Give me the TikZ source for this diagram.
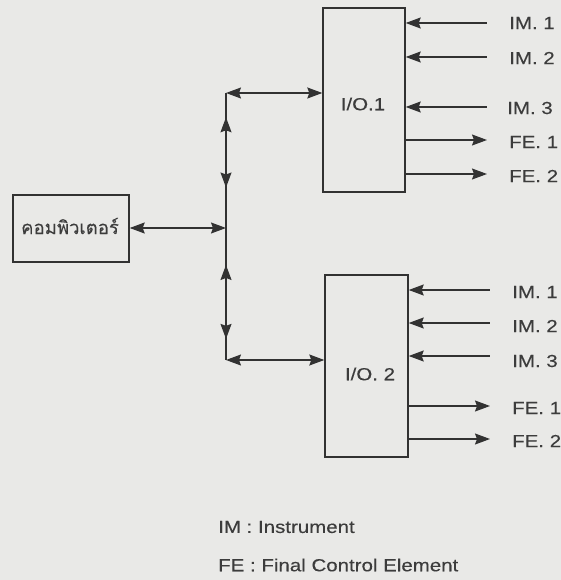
\documentclass[tikz,border=0pt]{standalone}
\usepackage{fontspec}
\setmainfont{Liberation Sans}[FakeStretch=1.17,FakeBold=0.25]
\newfontfamily\thaifont[Script=Thai,FakeBold=0.15]{Loma}
\usetikzlibrary{arrows.meta,decorations.markings}
\definecolor{paper}{RGB}{233,233,231}
\definecolor{ink}{RGB}{50,50,50}
\definecolor{txt}{RGB}{60,60,60}
\tikzset{
  box/.style={draw=ink, line width=1.4pt, minimum width=#1, inner sep=0pt},
  lbl/.style={text=txt, font=\fontsize{17.5}{20}\selectfont, inner sep=0pt},
  sig/.style={lbl, anchor=west},
  conn/.style={draw=ink, line width=1.3pt},
  tip/.tip={Stealth[length=15pt,width=11pt,inset=2pt]},
  both/.style={conn, tip-tip},
  inarr/.style={conn, tip-},
  outarr/.style={conn, -tip},
}
\begin{document}
\begin{tikzpicture}[x=1pt,y=-1pt]
\fill[paper] (0,0) rectangle (561,580);
\useasboundingbox (0,0) rectangle (561,580);
% boxes
\node[box=116pt, minimum height=67pt] (comp) at (71,228.5) {};
\node[lbl, font=\thaifont\fontsize{18.5}{22}\selectfont] (compl) at (70,226) {คอมพิวเตอร์};
\node[box=82pt, minimum height=184pt] (io1) at (364,100) {};
\node[lbl] (io1l) at (363,104) {I/O.1};
\node[box=83pt, minimum height=182pt] (io2) at (366.5,366) {};
\node[lbl] (io2l) at (370,374) {I/O.\ 2};
% bus
\coordinate (J) at (226,228);
\coordinate (T) at (226,93);
\coordinate (B) at (226,360);
\draw[both] (comp.east |- J) -- (J);
\draw[both] (T) -- (io1.west |- T);
\draw[both] (B) -- (io2.west |- B);
\draw[conn, decoration={markings,
   mark=at position 0.82 with {\arrow{tip}},
   mark=at position 0.30 with {\arrowreversed{tip}}},
   postaction={decorate}] (J) -- (T);
\draw[conn, decoration={markings,
   mark=at position 0.28 with {\arrowreversed{tip}},
   mark=at position 0.84 with {\arrow{tip}}},
   postaction={decorate}] (J) -- (B);
% top box signals
\coordinate (a1) at (487,23);
\coordinate (a2) at (487,57);
\coordinate (a3) at (487,107);
\coordinate (a4) at (487,140);
\coordinate (a5) at (487,174);
\draw[inarr] (io1.east |- a1) -- (a1);
\draw[inarr] (io1.east |- a2) -- (a2);
\draw[inarr] (io1.east |- a3) -- (a3);
\draw[outarr] (io1.east |- a4) -- (a4);
\draw[outarr] (io1.east |- a5) -- (a5);
\node[sig] (t1) at (509,23) {IM.\ 1};
\node[sig] (t2) at (509,58) {IM.\ 2};
\node[sig] (t3) at (507,108) {IM.\ 3};
\node[sig] (t4) at (509,142) {FE.\ 1};
\node[sig] (t5) at (509,176) {FE.\ 2};
% bottom box signals
\coordinate (b1) at (490,290);
\coordinate (b2) at (490,323);
\coordinate (b3) at (490,356);
\coordinate (b4) at (490,406);
\coordinate (b5) at (490,439);
\draw[inarr] (io2.east |- b1) -- (b1);
\draw[inarr] (io2.east |- b2) -- (b2);
\draw[inarr] (io2.east |- b3) -- (b3);
\draw[outarr] (io2.east |- b4) -- (b4);
\draw[outarr] (io2.east |- b5) -- (b5);
\node[sig] (u1) at (512,292) {IM.\ 1};
\node[sig] (u2) at (512,326) {IM.\ 2};
\node[sig] (u3) at (512,361) {IM.\ 3};
\node[sig] (u4) at (512,408) {FE.\ 1};
\node[sig] (u5) at (512,441) {FE.\ 2};
% legend
\node[sig] (leg1) at (218,527) {IM\ :\ Instrument};
\node[sig] (leg2) at (218,565) {FE\ :\ Final Control Element};
\end{tikzpicture}
\end{document}
